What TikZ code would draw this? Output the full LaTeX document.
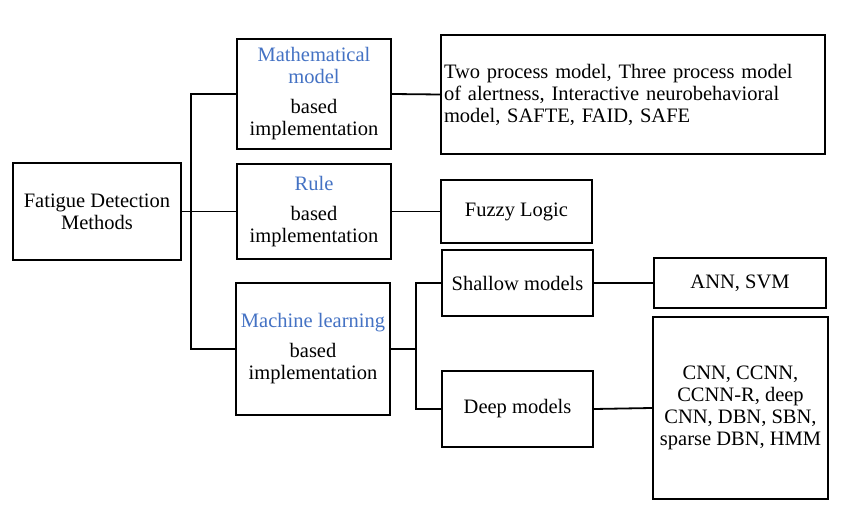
\documentclass[tikz,border=0pt]{standalone}
\usepackage{fontspec}
\setmainfont{Liberation Serif}
\definecolor{mblue}{RGB}{68,114,196}
\begin{document}
\begin{tikzpicture}[x=1pt,y=-1pt,
  box/.style={draw=black,line width=2.2pt,align=center,inner sep=1pt,
    font=\fontsize{20.5}{22}\selectfont},
  conn/.style={draw=black,line width=1.8pt}]
\useasboundingbox (0,0) rectangle (843,521);
\fill[white] (0,0) rectangle (843,521);
\node[box,minimum width=168pt,minimum height=97pt] (fat) at (97,211.5) {Fatigue Detection\\Methods};
\node[box,minimum width=154pt,minimum height=110pt] (math) at (314,94) {\textcolor{mblue}{Mathematical}\\\textcolor{mblue}{model}\\[8pt]based\\implementation};
\node[box,minimum width=154pt,minimum height=95pt] (rule) at (314,211.5) {\textcolor{mblue}{Rule}\\[8pt]based\\implementation};
\node[box,minimum width=154pt,minimum height=132pt] (ml) at (313,349) {\textcolor{mblue}{Machine learning}\\[8pt]based\\implementation};
\node[box,minimum width=384pt,minimum height=119pt,text width=378pt,align=left,inner xsep=2pt] (big) at (633,94.5) {Two process model, Three process model\\of alertness, Interactive neurobehavioral\\model, SAFTE, FAID, SAFE};
\node[box,minimum width=151pt,minimum height=63pt] (fuzzy) at (516.5,211.5) {Fuzzy Logic};
\node[box,minimum width=151pt,minimum height=66pt] (shallow) at (517.5,283) {Shallow models};
\node[box,minimum width=151pt,minimum height=76pt] (deep) at (517.5,409) {Deep models};
\node[box,minimum width=172pt,minimum height=50pt] (ann) at (740,283) {ANN, SVM};
\node[box,minimum width=175pt,minimum height=182pt] (list) at (740.5,408) {CNN, CCNN,\\CCNN-R, deep\\CNN, DBN, SBN,\\sparse DBN, HMM};
\coordinate (t1) at (191,0);
\coordinate (t2) at (416,0);
\draw[conn] (fat.east) -- (rule.west);
\draw[conn] (math.west) -- (math.west -| t1) -- (ml.west -| t1) -- (ml.west);
\draw[conn] (math.east) -- (big.west);
\draw[conn] (rule.east) -- (fuzzy.west);
\draw[conn] (ml.east) -- (ml.east -| t2);
\draw[conn] (shallow.west) -- (shallow.west -| t2) -- (deep.west -| t2) -- (deep.west);
\draw[conn] (shallow.east) -- (ann.west);
\draw[conn] (deep.east) -- (list.west);
\end{tikzpicture}
\end{document}
